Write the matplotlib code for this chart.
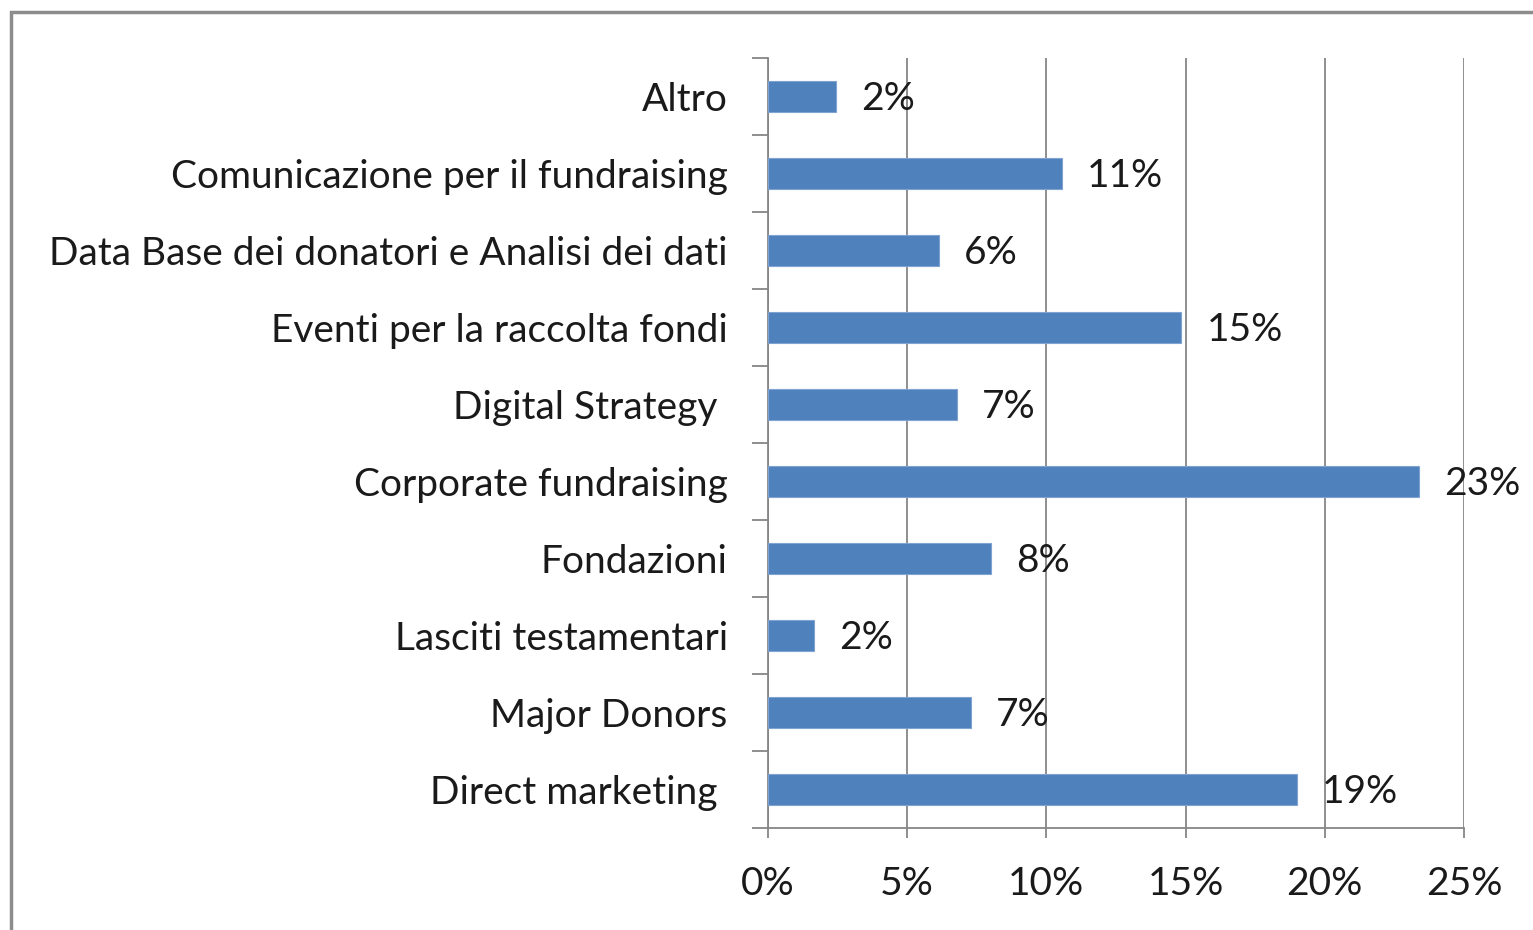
import matplotlib
matplotlib.use("Agg")
import matplotlib.pyplot as plt
from matplotlib.patches import Rectangle
from matplotlib.ticker import FixedLocator, PercentFormatter

plt.rcParams['font.family'] = ['Lato', 'DejaVu Sans']

# categories listed bottom to top
categories = [
    "Direct marketing ",
    "Major Donors",
    "Lasciti testamentari",
    "Fondazioni",
    "Corporate fundraising",
    "Digital Strategy ",
    "Eventi per la raccolta fondi",
    "Data Base dei donatori e Analisi dei dati",
    "Comunicazione per il fundraising",
    "Altro",
]
values = [19.0, 7.3, 1.65, 8.0, 23.4, 6.8, 14.85, 6.15, 10.55, 2.45]
value_labels = ["19%", "7%", "2%", "8%", "23%", "7%", "15%", "6%", "11%", "2%"]
x_ticks = [0, 5, 10, 15, 20, 25]

bar_color = "#4F81BD"
grid_color = "#868686"
text_color = "#1a1a1a"
fs = 28

fig = plt.figure(figsize=(15.33, 9.30), dpi=100)
ax = fig.add_axes([768 / 1533, 1 - 828 / 930, (1464 - 768) / 1533, (828 - 58) / 930])

ypos = list(range(len(categories)))
ax.barh(ypos, values, height=0.39, color=bar_color, edgecolor="#7FA3D3",
        linewidth=0.8, zorder=3)

for y, v, lab in zip(ypos, values, value_labels):
    ax.annotate(lab, (v, y), xytext=(18, -2), textcoords="offset points",
                ha="left", va="center", fontsize=fs, color=text_color)

ax.set_xlim(0, 25)
ax.set_ylim(-0.5, len(categories) - 0.5)

ax.xaxis.set_major_locator(FixedLocator(x_ticks))
ax.xaxis.set_major_formatter(PercentFormatter(decimals=0))
ax.grid(axis="x", color=grid_color, linewidth=1.3, zorder=0)
ax.set_axisbelow(True)

ax.set_yticks(ypos)
ax.set_yticklabels(categories)
ax.set_yticks([i - 0.5 for i in range(len(categories) + 1)], minor=True)
ax.tick_params(axis="y", which="major", length=0, pad=29, labelsize=fs,
               labelcolor=text_color)
ax.tick_params(axis="y", which="minor", length=11.5, width=1.3, color=grid_color,
               direction="out")
ax.tick_params(axis="x", which="major", length=7.5, width=1.3, color=grid_color,
               direction="out", pad=20, labelsize=fs, labelcolor=text_color)

for side in ["top", "right"]:
    ax.spines[side].set_visible(False)
for side in ["left", "bottom"]:
    ax.spines[side].set_color(grid_color)
    ax.spines[side].set_linewidth(1.3)

# outer chart frame (cut off at right and bottom)
fig.patches.append(Rectangle((11 / 1533, -0.05), 1.2, 1.05 - 12 / 930,
                             transform=fig.transFigure, fill=False,
                             edgecolor="#8c8c8c", linewidth=2.5))

fig.savefig("out.png", dpi=100, facecolor="white")
